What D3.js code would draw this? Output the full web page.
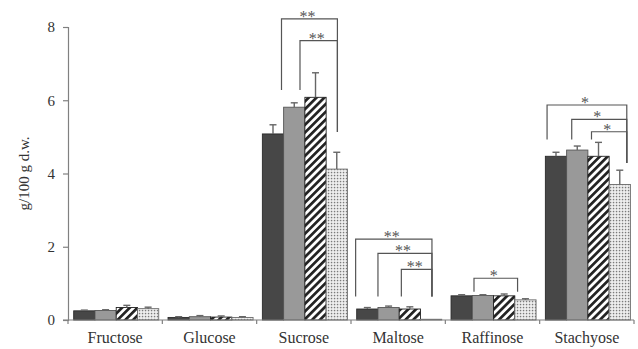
<!DOCTYPE html>
<html>
<head>
<meta charset="utf-8">
<script src="https://cdn.jsdelivr.net/npm/d3@7"></script>
<style>
  html, body { margin: 0; padding: 0; background: #fff; }
  svg { display: block; }
  text { font-family: "Liberation Serif", "Times New Roman", serif; fill: #333; }
</style>
</head>
<body>
<svg id="chart" width="638" height="349"></svg>
<script>
// Sugar content per treatment (g/100 g dry weight), mean and standard error
const categories = ["Fructose", "Glucose", "Sucrose", "Maltose", "Raffinose", "Stachyose"];
const series = ["T1", "T2", "T3", "T4"];

const meanT1 = [0.25, 0.07, 5.08, 0.30, 0.66, 4.47];
const meanT2 = [0.26, 0.09, 5.81, 0.34, 0.67, 4.64];
const meanT3 = [0.34, 0.08, 6.08, 0.30, 0.66, 4.47];
const meanT4 = [0.31, 0.07, 4.12, 0.02, 0.55, 3.70];

const errT1 = [0.02, 0.02, 0.25, 0.04, 0.03, 0.11];
const errT2 = [0.02, 0.03, 0.12, 0.04, 0.02, 0.11];
const errT3 = [0.06, 0.03, 0.67, 0.06, 0.05, 0.38];
const errT4 = [0.04, 0.02, 0.46, 0.00, 0.03, 0.39];

const yTicks = [0, 2, 4, 6, 8];

// Significance brackets: group, compared bars, bracket height and leg ends (g/100 g)
const brackets = [
  { cat: "Sucrose",   from: 0, to: 3, label: "**", top: 8.22, leftEnd: 6.28, rightEnd: 5.13, fa: 0.90, fb: 0.53 },
  { cat: "Sucrose",   from: 1, to: 3, label: "**", top: 7.63, leftEnd: 6.28, rightEnd: 5.13, fa: 0.77, fb: 0.53 },
  { cat: "Maltose",   from: 0, to: 3, label: "**", top: 2.21, leftEnd: 0.64, rightEnd: 0.64, fa: -0.05, fb: 0.54 },
  { cat: "Maltose",   from: 1, to: 3, label: "**", top: 1.82, leftEnd: 0.64, rightEnd: 0.64, fa: 0.0, fb: 0.54 },
  { cat: "Maltose",   from: 2, to: 3, label: "**", top: 1.38, leftEnd: 0.64, rightEnd: 0.64, fa: 0.1, fb: 0.54 },
  { cat: "Raffinose", from: 1, to: 3, label: "*",  top: 1.14, leftEnd: 0.77, rightEnd: 0.77, fa: 0.08, fb: 0.13 },
  { cat: "Stachyose", from: 0, to: 3, label: "*",  top: 5.87, leftEnd: 4.93, rightEnd: 4.29, fa: 0.08, fb: 0.83 },
  { cat: "Stachyose", from: 1, to: 3, label: "*",  top: 5.48, leftEnd: 4.93, rightEnd: 4.29, fa: 0.24, fb: 0.83 },
  { cat: "Stachyose", from: 2, to: 3, label: "*",  top: 5.14, leftEnd: 4.93, rightEnd: 4.29, fa: 0.17, fb: 0.83 }
];

const means = [meanT1, meanT2, meanT3, meanT4];
const errs = [errT1, errT2, errT3, errT4];

const svg = d3.select("#chart");
const defs = svg.append("defs");

// diagonal hatch
const hatch = defs.append("pattern")
  .attr("id", "hatch").attr("patternUnits", "userSpaceOnUse")
  .attr("width", 5.5).attr("height", 5.5)
  .attr("patternTransform", "rotate(45)");
hatch.append("rect").attr("width", 5.5).attr("height", 5.5).attr("fill", "#fff");
hatch.append("rect").attr("width", 2.7).attr("height", 5.5).attr("fill", "#222");

// fine dot grid
const dots = defs.append("pattern")
  .attr("id", "dots").attr("patternUnits", "userSpaceOnUse")
  .attr("width", 3).attr("height", 3);
dots.append("rect").attr("width", 3).attr("height", 3).attr("fill", "#f4f4f4");
dots.append("rect").attr("x", 0.8).attr("y", 0.8).attr("width", 1.5).attr("height", 1.5).attr("fill", "#7a7a7a");

const fills = ["#474747", "#999999", "url(#hatch)", "url(#dots)"];
const strokes = ["#2a2a2a", "#555555", "#222222", "#6a6a6a"];

const x0 = d3.scaleBand().domain(categories).range([68, 634]).padding(0);
const x1 = d3.scaleBand().domain(series).range([5.7, x0.bandwidth() - 3.6]).padding(0);
const y = d3.scaleLinear().domain([0, 8]).range([320, 27]);

// y axis
const yAxis = svg.append("g").attr("transform", "translate(68,0)")
  .call(d3.axisLeft(y).tickValues(yTicks).tickSize(5).tickPadding(8).tickFormat(d3.format("d")));
yAxis.select(".domain").attr("stroke", "#808080").attr("stroke-width", 1.2);
yAxis.selectAll(".tick line").attr("stroke", "#808080").attr("stroke-width", 1.2);
yAxis.selectAll(".tick text").style("font-size", "15px").attr("fill", "#333");

// y label
svg.append("text")
  .attr("transform", "translate(24," + y(4) + ") rotate(-90)")
  .attr("text-anchor", "middle")
  .attr("dy", "0.35em")
  .style("font-size", "15px")
  .text("g/100 g d.w.");

// bars
const rows = [];
categories.forEach((c, ci) => series.forEach((s, si) => {
  rows.push({ c, s, si, v: means[si][ci], e: errs[si][ci] });
}));

const g = svg.append("g");
g.selectAll("rect.bar").data(rows).join("rect")
  .attr("class", "bar")
  .attr("x", d => x0(d.c) + x1(d.s))
  .attr("y", d => y(d.v))
  .attr("width", x1.bandwidth())
  .attr("height", d => y(0) - y(d.v))
  .attr("fill", d => fills[d.si])
  .attr("stroke", d => strokes[d.si])
  .attr("stroke-width", 0.9);

// error bars (upper only)
const eb = g.selectAll("g.err").data(rows.filter(d => d.e > 0)).join("g").attr("class", "err");
eb.append("line")
  .attr("x1", d => x0(d.c) + x1(d.s) + x1.bandwidth() / 2)
  .attr("x2", d => x0(d.c) + x1(d.s) + x1.bandwidth() / 2)
  .attr("y1", d => y(d.v))
  .attr("y2", d => y(d.v + d.e))
  .attr("stroke", "#666").attr("stroke-width", 1.4);
eb.append("line")
  .attr("x1", d => x0(d.c) + x1(d.s) + x1.bandwidth() / 2 - 3.5)
  .attr("x2", d => x0(d.c) + x1(d.s) + x1.bandwidth() / 2 + 3.5)
  .attr("y1", d => y(d.v + d.e))
  .attr("y2", d => y(d.v + d.e))
  .attr("stroke", "#666").attr("stroke-width", 1.4);

// x axis
const xAxisG = svg.append("g").attr("transform", "translate(0," + y(0) + ")");
xAxisG.append("line").attr("x1", 63).attr("x2", 634).attr("y1", 0).attr("y2", 0)
  .attr("stroke", "#808080").attr("stroke-width", 1.2);
const bounds = categories.map(c => x0(c)).concat([x0.range()[1]]);
xAxisG.selectAll("line.tk").data(bounds).join("line").attr("class", "tk")
  .attr("x1", d => d).attr("x2", d => d).attr("y1", 0).attr("y2", 4)
  .attr("stroke", "#808080").attr("stroke-width", 1.2);
xAxisG.selectAll("text").data(categories).join("text")
  .attr("x", d => x0(d) + x0.bandwidth() / 2)
  .attr("y", 23)
  .attr("text-anchor", "middle")
  .style("font-size", "16px")
  .text(d => d);

// significance brackets
const bg = svg.append("g");
brackets.forEach(b => {
  const xa = x0(b.cat) + x1(series[b.from]) + b.fa * x1.bandwidth();
  const xb = x0(b.cat) + x1(series[b.to]) + b.fb * x1.bandwidth();
  const path = d3.path();
  path.moveTo(xa, y(b.leftEnd));
  path.lineTo(xa, y(b.top));
  path.lineTo(xb, y(b.top));
  path.lineTo(xb, y(b.rightEnd));
  bg.append("path").attr("d", path.toString())
    .attr("fill", "none").attr("stroke", "#555").attr("stroke-width", 1.2);
  bg.append("text")
    .attr("x", (xa + xb) / 2 - 2)
    .attr("y", y(b.top) + 3)
    .attr("text-anchor", "middle")
    .style("font-size", "16px")
    .style("fill", "#555")
    .text(b.label);
});
</script>
</body>
</html>
